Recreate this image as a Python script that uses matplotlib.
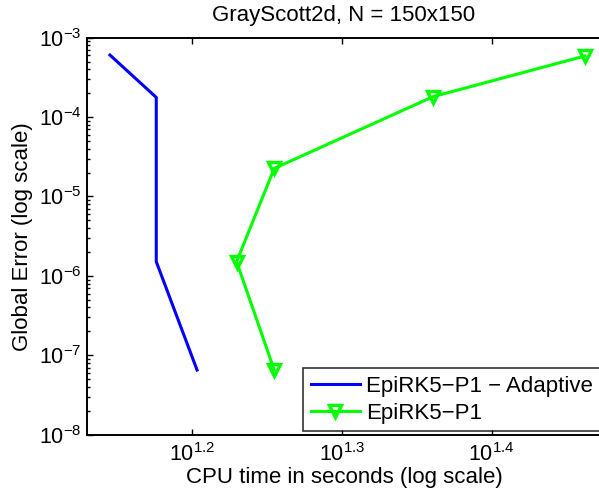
"""Error vs CPU time for GrayScott2d, N = 150x150."""

import matplotlib

matplotlib.use("Agg")

import matplotlib.pyplot as plt
from matplotlib.ticker import FixedLocator, FixedFormatter, LogLocator, NullLocator, NullFormatter

plt.rcParams["font.family"] = ["Liberation Sans", "DejaVu Sans"]
plt.rcParams["mathtext.fontset"] = "custom"
plt.rcParams["mathtext.rm"] = "Liberation Sans"
plt.rcParams["mathtext.it"] = "Liberation Sans:italic"

adaptive_time = [13.98, 15.01, 15.01, 15.98]
adaptive_error = [6.05e-4, 1.77e-4, 1.51e-6, 6.53e-8]

fixed_time = [28.99, 22.96, 17.99, 16.98, 17.99]
fixed_error = [5.89e-4, 1.81e-4, 2.26e-5, 1.51e-6, 6.53e-8]

x_ticks = [10 ** 1.2, 10 ** 1.3, 10 ** 1.4]
x_tick_labels = ["$10^{1.2}$", "$10^{1.3}$", "$10^{1.4}$"]
y_ticks = [1e-8, 1e-7, 1e-6, 1e-5, 1e-4, 1e-3]
y_tick_labels = ["$10^{-8}$", "$10^{-7}$", "$10^{-6}$", "$10^{-5}$", "$10^{-4}$", "$10^{-3}$"]

W, H = 599, 497
fig = plt.figure(figsize=(W / 100, H / 100), dpi=100)
ax = fig.add_axes([87 / W, 1 - 434.7 / H, (601 - 87) / W, (434.7 - 37.7) / H])

ax.plot(adaptive_time, adaptive_error, color=(0, 0, 1), linewidth=2.2,
        label="EpiRK5\u2212P1 \u2212 Adaptive")
ax.plot(fixed_time, fixed_error, color=(0, 1, 0), linewidth=2.2, marker="v",
        markersize=9, markerfacecolor="none", markeredgewidth=2.4,
        label="EpiRK5\u2212P1")

ax.set_xscale("log")
ax.set_yscale("log")
ax.set_xlim(10 ** 1.1302, 10 ** 1.4729)
ax.set_ylim(1e-8, 1e-3)

ax.xaxis.set_major_locator(FixedLocator(x_ticks))
ax.xaxis.set_major_formatter(FixedFormatter(x_tick_labels))
ax.xaxis.set_minor_locator(NullLocator())
ax.yaxis.set_major_locator(FixedLocator(y_ticks))
ax.yaxis.set_major_formatter(FixedFormatter(y_tick_labels))
ax.yaxis.set_minor_locator(LogLocator(base=10, subs=range(2, 10), numticks=20))
ax.yaxis.set_minor_formatter(NullFormatter())

ax.tick_params(which="both", direction="in", top=True, right=False, labelsize=15.5, width=1.0)
ax.tick_params(axis="x", which="major", length=4, pad=6)
ax.tick_params(axis="y", which="major", length=4, pad=4)
ax.tick_params(axis="y", which="minor", length=2.5)
for spine in ax.spines.values():
    spine.set_linewidth(1.4)
ax.spines["right"].set_visible(False)

ax.set_title("GrayScott2d, N = 150x150", fontsize=16, pad=12)
ax.set_xlabel("CPU time in seconds (log scale)", fontsize=16, labelpad=1)
ax.set_ylabel("Global Error (log scale)", fontsize=16, labelpad=4)

leg = fig.legend(loc="upper left", bbox_to_anchor=(303 / W, 1 - 368.3 / H),
                 fontsize=16, frameon=True, fancybox=False, borderaxespad=0,
                 borderpad=0.35, handlelength=2.2, handletextpad=0.3, labelspacing=0.25)
leg.get_frame().set_edgecolor("black")
leg.get_frame().set_linewidth(1.2)

fig.savefig("out.png", dpi=100)
